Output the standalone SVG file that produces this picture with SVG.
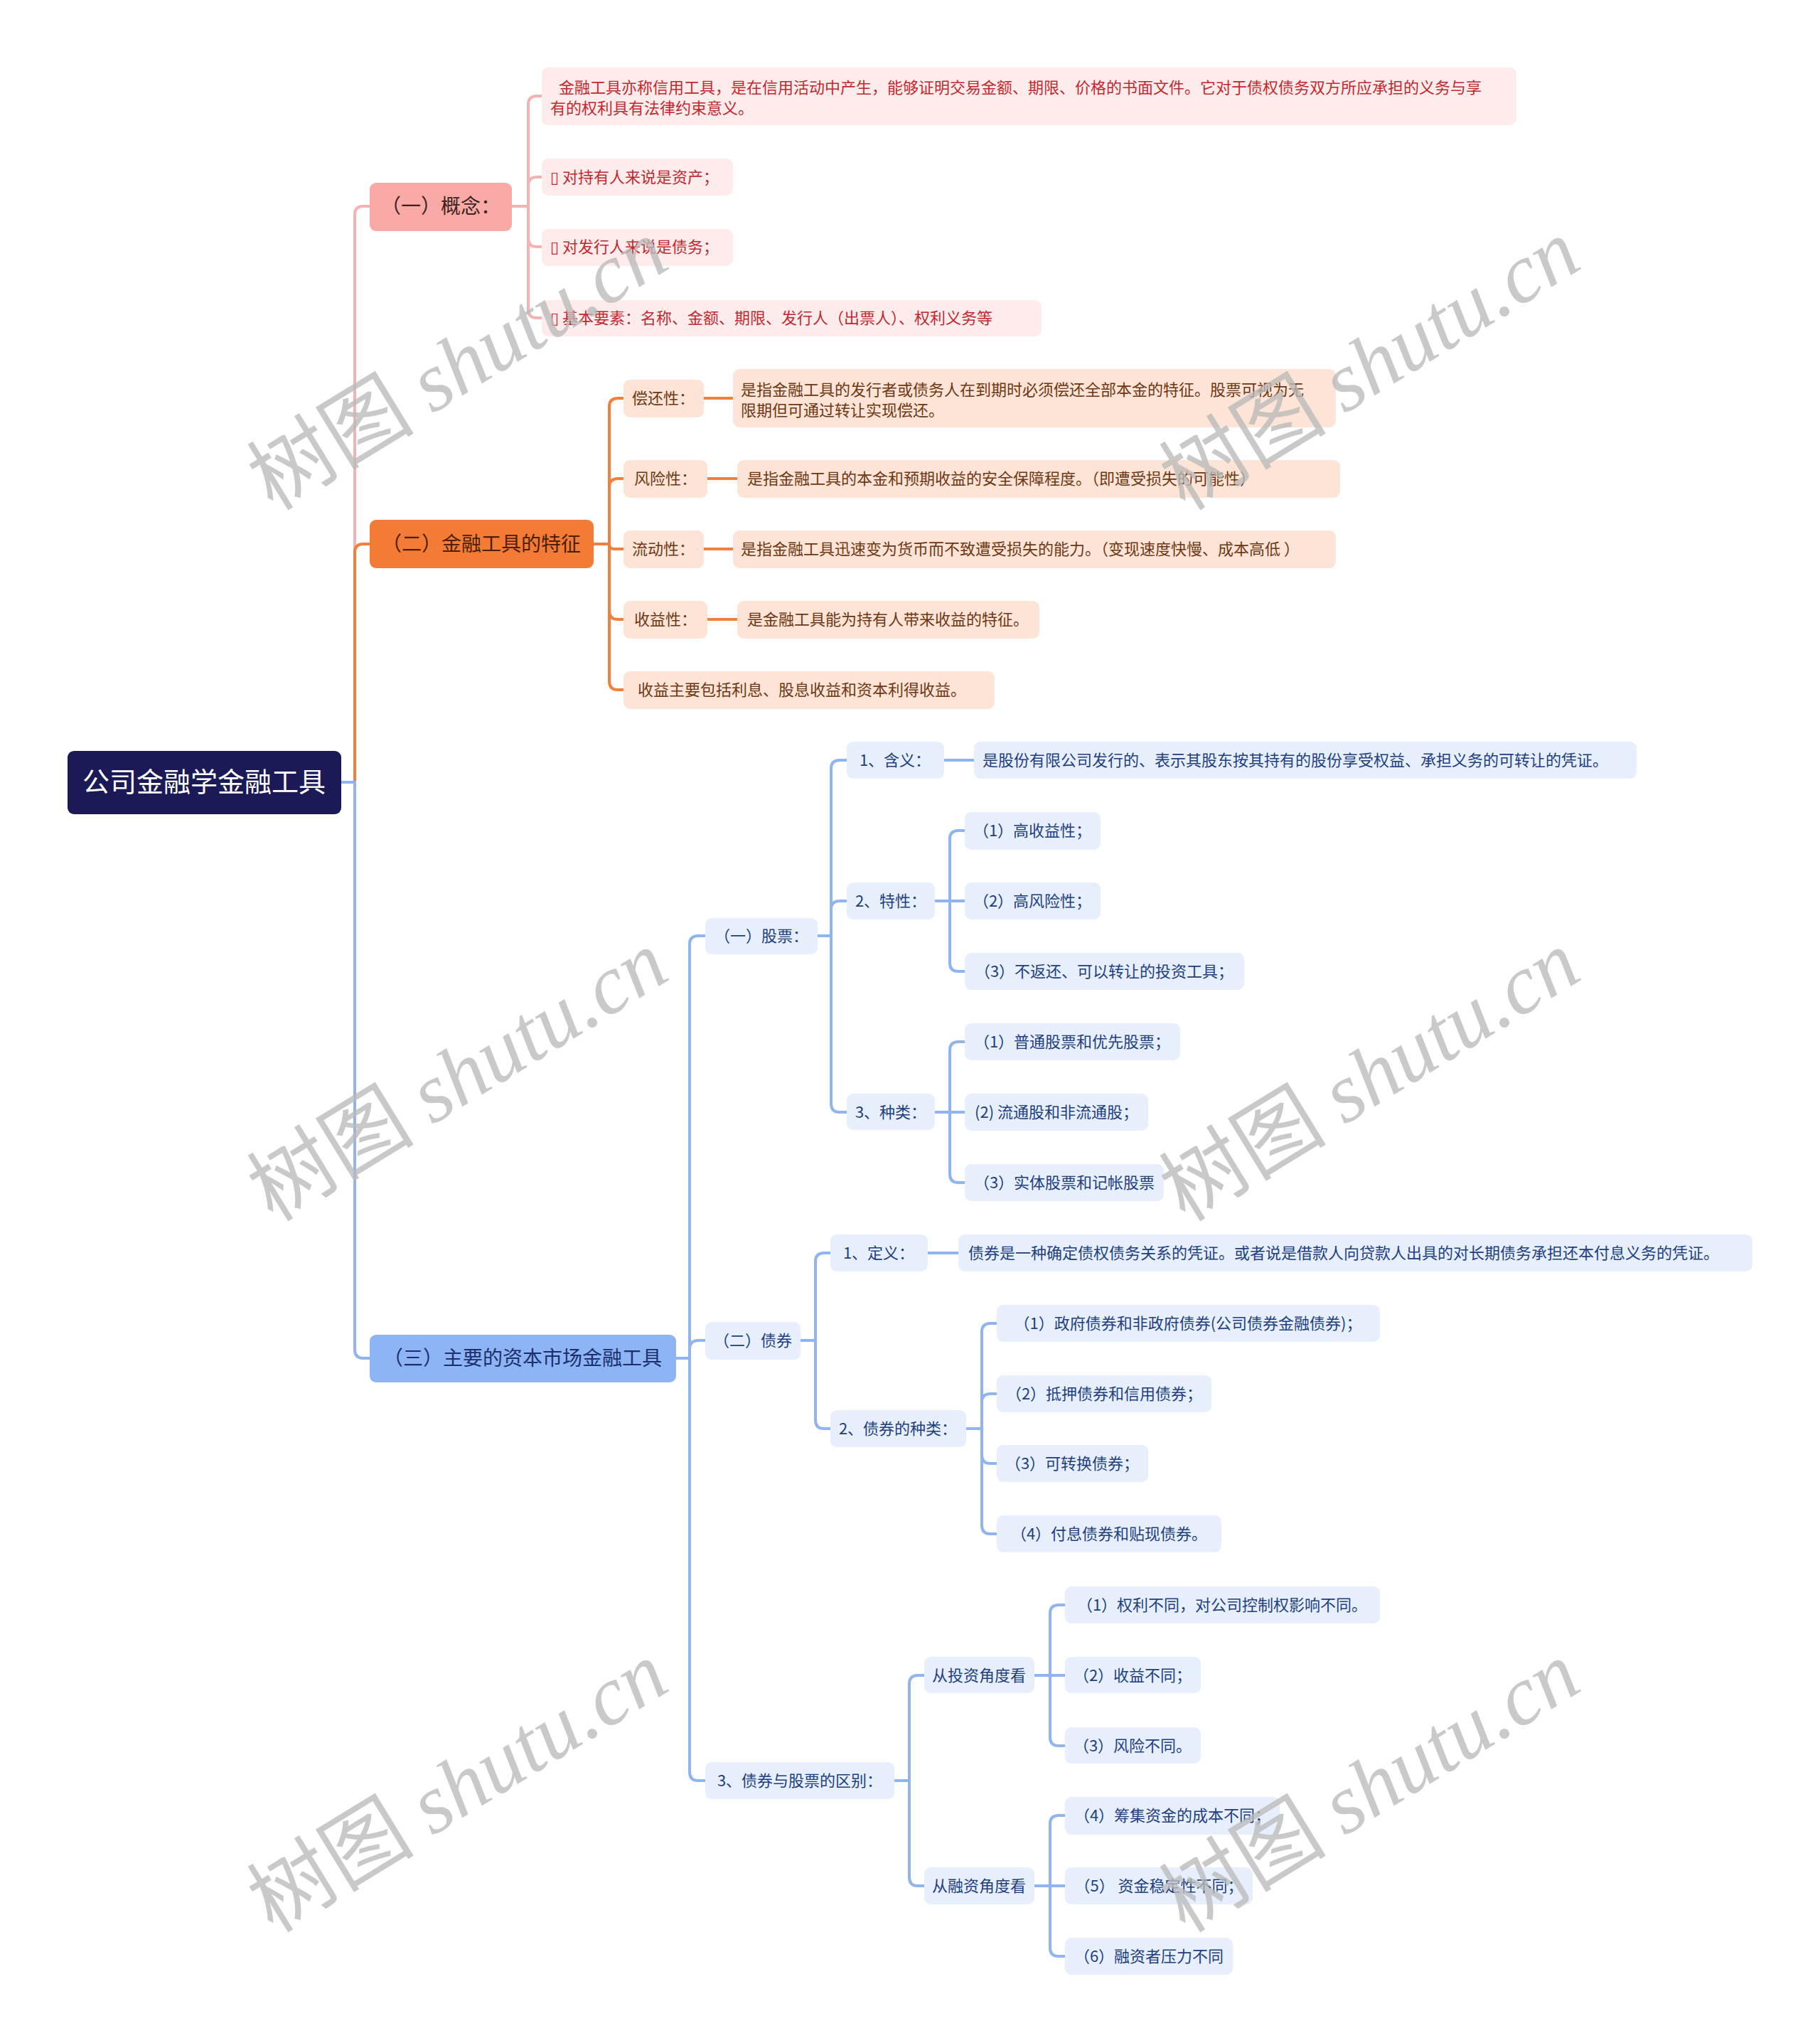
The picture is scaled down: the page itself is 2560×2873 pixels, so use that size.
<svg xmlns="http://www.w3.org/2000/svg" width="2560" height="2873" viewBox="0 0 2560 2873">
<style>
text{font-family:"Noto Sans CJK SC","Noto Sans","DejaVu Sans",sans-serif;font-size:22px}
.c{text-anchor:middle}
.l1{font-size:28px}
.root{fill:#1b1a57}
.roott{fill:#ffffff;font-size:38px}
.pk1{fill:#f9aaa6}.pk1t{fill:#3d1f1f}
.pk2{fill:#fdeceb}.pk2t{fill:#c3282f}
.or1{fill:#f47b35}.or1t{fill:#4a2008}
.or2{fill:#fde4d6}.or2t{fill:#6e3713}
.bl1{fill:#8db4f5}.bl1t{fill:#1a2f6b}
.bl2{fill:#e7effd}.bl2t{fill:#22407f}
.ln{fill:none;stroke-width:4}
.lp{stroke:#f4b3b0}.lo{stroke:#f27f3c}.lb{stroke:#8fb4f0}
.wm{fill:#bbbbbb;opacity:0.78;font-size:118px;text-anchor:middle}
.wm tspan.s{font-family:"Liberation Serif",serif;font-style:italic}
</style>
<rect width="2560" height="2873" fill="#ffffff"/>
<g id="connectors">
<path class="ln lp" stroke-width="4.5" d="M480,1100 H499 V302 Q499,290 511,290 H520"/>
<path class="ln lo" stroke-width="4.5" d="M480,1100 H499 V777 Q499,765 511,765 H520"/>
<path class="ln lb" stroke-width="4.5" d="M480,1100 H499 V1898 Q499,1910 511,1910 H520"/>
<path class="ln lp" d="M720,290 H743 V147 Q743,135 755,135 H762"/>
<path class="ln lp" d="M720,290 H743 V261 Q743,249 755,249 H762"/>
<path class="ln lp" d="M720,290 H743 V335 Q743,347 755,347 H762"/>
<path class="ln lp" d="M720,290 H743 V435 Q743,447 755,447 H762"/>
<path class="ln lo" d="M835,765 H857 V572 Q857,560 869,560 H877"/>
<path class="ln lo" d="M835,765 H857 V685 Q857,673 869,673 H877"/>
<path class="ln lo" d="M835,765 H857 Q857,772 864,772 H877"/>
<path class="ln lo" d="M835,765 H857 V859 Q857,871 869,871 H877"/>
<path class="ln lo" d="M835,765 H857 V958 Q857,970 869,970 H877"/>
<path class="ln lo" stroke-width="5" d="M990,560 H1031 M995,673 H1037 M990,772 H1031 M995,871 H1037"/>
<path class="ln lb" d="M951,1910 H970 V1328 Q970,1316 982,1316 H992"/>
<path class="ln lb" d="M951,1910 H970 V1897 Q970,1885 982,1885 H992"/>
<path class="ln lb" d="M951,1910 H970 V2492 Q970,2504 982,2504 H992"/>
<path class="ln lb" d="M1150,1316 H1169 V1081 Q1169,1069 1181,1069 H1191"/>
<path class="ln lb" d="M1150,1316 H1169 V1279 Q1169,1267 1181,1267 H1191"/>
<path class="ln lb" d="M1150,1316 H1169 V1552 Q1169,1564 1181,1564 H1191"/>
<path class="ln lb" stroke-width="5" d="M1328,1069 H1370"/>
<path class="ln lb" d="M1315,1267 H1336 V1180 Q1336,1168 1348,1168 H1357"/>
<path class="ln lb" d="M1315,1267 H1357"/>
<path class="ln lb" d="M1315,1267 H1336 V1354 Q1336,1366 1348,1366 H1357"/>
<path class="ln lb" d="M1315,1564 H1336 V1477 Q1336,1465 1348,1465 H1357"/>
<path class="ln lb" d="M1315,1564 H1357"/>
<path class="ln lb" d="M1315,1564 H1336 V1651 Q1336,1663 1348,1663 H1357"/>
<path class="ln lb" d="M1126,1885 H1147 V1774 Q1147,1762 1159,1762 H1168"/>
<path class="ln lb" d="M1126,1885 H1147 V1997 Q1147,2009 1159,2009 H1168"/>
<path class="ln lb" stroke-width="5" d="M1305,1762 H1348"/>
<path class="ln lb" d="M1359,2009 H1381 V1873 Q1381,1861 1393,1861 H1402"/>
<path class="ln lb" d="M1359,2009 H1381 V1972 Q1381,1960 1393,1960 H1402"/>
<path class="ln lb" d="M1359,2009 H1381 V2046 Q1381,2058 1393,2058 H1402"/>
<path class="ln lb" d="M1359,2009 H1381 V2145 Q1381,2157 1393,2157 H1402"/>
<path class="ln lb" d="M1258,2504 H1279 V2368 Q1279,2356 1291,2356 H1300"/>
<path class="ln lb" d="M1258,2504 H1279 V2640 Q1279,2652 1291,2652 H1300"/>
<path class="ln lb" d="M1455,2356 H1477 V2269 Q1477,2257 1489,2257 H1498"/>
<path class="ln lb" d="M1455,2356 H1498"/>
<path class="ln lb" d="M1455,2356 H1477 V2443 Q1477,2455 1489,2455 H1498"/>
<path class="ln lb" d="M1455,2652 H1477 V2565 Q1477,2553 1489,2553 H1498"/>
<path class="ln lb" d="M1455,2652 H1498"/>
<path class="ln lb" d="M1455,2652 H1477 V2739 Q1477,2751 1489,2751 H1498"/>
</g>
<g id="root"><rect class="root" x="95" y="1056" width="385" height="89" rx="9"/><text class="roott c" x="287" y="1113">公司金融学金融工具</text></g>
<g id="n1"><rect class="pk1" x="520" y="257" width="200" height="68" rx="9"/><text class="pk1t c l1" x="620" y="300">（一）概念：</text></g>
<g id="n1a"><rect class="pk2" x="762" y="95" width="1371" height="81" rx="9"/><text class="pk2t" x="786" y="131">金融工具亦称信用工具，是在信用活动中产生，能够证明交易金额、期限、价格的书面文件。它对于债权债务双方所应承担的义务与享</text><text class="pk2t" x="774" y="160">有的权利具有法律约束意义。</text></g>
<g id="n1b"><rect class="pk2" x="762" y="223" width="269" height="52" rx="9"/><text class="pk2t" x="774" y="257">▯ 对持有人来说是资产；</text></g>
<g id="n1c"><rect class="pk2" x="762" y="322" width="269" height="52" rx="9"/><text class="pk2t" x="774" y="355">▯ 对发行人来说是债务；</text></g>
<g id="n1d"><rect class="pk2" x="762" y="422" width="703" height="51" rx="9"/><text class="pk2t" x="774" y="455">▯ 基本要素：名称、金额、期限、发行人（出票人）、权利义务等</text></g>
<g id="n2"><rect class="or1" x="520" y="731" width="315" height="68" rx="9"/><text class="or1t c l1" x="677" y="775">（二）金融工具的特征</text></g>
<g id="n2a"><rect class="or2" x="877" y="534" width="113" height="53" rx="9"/><text class="or2t c" x="933" y="568">偿还性：</text></g>
<g id="n2a1"><rect class="or2" x="1031" y="519" width="848" height="82" rx="9"/><text class="or2t" x="1042" y="556">是指金融工具的发行者或债务人在到期时必须偿还全部本金的特征。股票可视为无</text><text class="or2t" x="1042" y="585">限期但可通过转让实现偿还。</text></g>
<g id="n2b"><rect class="or2" x="877" y="647" width="118" height="53" rx="9"/><text class="or2t c" x="936" y="681">风险性：</text></g>
<g id="n2b1"><rect class="or2" x="1037" y="647" width="848" height="53" rx="9"/><text class="or2t" x="1051" y="681">是指金融工具的本金和预期收益的安全保障程度。（即遭受损失的可能性）</text></g>
<g id="n2c"><rect class="or2" x="877" y="746" width="113" height="53" rx="9"/><text class="or2t c" x="933" y="780">流动性：</text></g>
<g id="n2c1"><rect class="or2" x="1031" y="746" width="848" height="53" rx="9"/><text class="or2t" x="1042" y="780">是指金融工具迅速变为货币而不致遭受损失的能力。（变现速度快慢、成本高低 ）</text></g>
<g id="n2d"><rect class="or2" x="877" y="845" width="118" height="53" rx="9"/><text class="or2t c" x="936" y="879">收益性：</text></g>
<g id="n2d1"><rect class="or2" x="1037" y="845" width="425" height="53" rx="9"/><text class="or2t" x="1051" y="879">是金融工具能为持有人带来收益的特征。</text></g>
<g id="n2e"><rect class="or2" x="877" y="944" width="522" height="53" rx="9"/><text class="or2t" x="897" y="978">收益主要包括利息、股息收益和资本利得收益。</text></g>
<g id="n3"><rect class="bl1" x="520" y="1877" width="431" height="67" rx="9"/><text class="bl1t c l1" x="735" y="1920">（三）主要的资本市场金融工具</text></g>
<g id="s1"><rect class="bl2" x="992" y="1291" width="158" height="51" rx="9"/><text class="bl2t c" x="1071" y="1324">（一）股票：</text></g>
<g id="s1a"><rect class="bl2" x="1191" y="1043" width="137" height="52" rx="9"/><text class="bl2t c" x="1259" y="1077">1、含义：</text></g>
<g id="s1a1"><rect class="bl2" x="1370" y="1043" width="932" height="52" rx="9"/><text class="bl2t" x="1382" y="1077">是股份有限公司发行的、表示其股东按其持有的股份享受权益、承担义务的可转让的凭证。</text></g>
<g id="s1b"><rect class="bl2" x="1191" y="1241" width="124" height="52" rx="9"/><text class="bl2t c" x="1253" y="1275">2、特性：</text></g>
<g id="s1b1"><rect class="bl2" x="1357" y="1142" width="191" height="53" rx="9"/><text class="bl2t c" x="1452" y="1176">（1）高收益性；</text></g>
<g id="s1b2"><rect class="bl2" x="1357" y="1241" width="191" height="52" rx="9"/><text class="bl2t c" x="1452" y="1275">（2）高风险性；</text></g>
<g id="s1b3"><rect class="bl2" x="1357" y="1340" width="393" height="52" rx="9"/><text class="bl2t c" x="1553" y="1374">（3）不返还、可以转让的投资工具；</text></g>
<g id="s1c"><rect class="bl2" x="1191" y="1538" width="124" height="51" rx="9"/><text class="bl2t c" x="1253" y="1572">3、种类：</text></g>
<g id="s1c1"><rect class="bl2" x="1357" y="1439" width="303" height="52" rx="9"/><text class="bl2t c" x="1508" y="1473">（1）普通股票和优先股票；</text></g>
<g id="s1c2"><rect class="bl2" x="1357" y="1538" width="258" height="52" rx="9"/><text class="bl2t c" x="1486" y="1572">(2) 流通股和非流通股；</text></g>
<g id="s1c3"><rect class="bl2" x="1357" y="1637" width="280" height="52" rx="9"/><text class="bl2t c" x="1497" y="1671">（3）实体股票和记帐股票</text></g>
<g id="s2"><rect class="bl2" x="992" y="1859" width="134" height="53" rx="9"/><text class="bl2t c" x="1059" y="1893">（二）债券</text></g>
<g id="s2a"><rect class="bl2" x="1168" y="1736" width="137" height="52" rx="9"/><text class="bl2t c" x="1236" y="1770">1、定义：</text></g>
<g id="s2a1"><rect class="bl2" x="1348" y="1736" width="1117" height="52" rx="9"/><text class="bl2t" x="1362" y="1770">债券是一种确定债权债务关系的凭证。或者说是借款人向贷款人出具的对长期债务承担还本付息义务的凭证。</text></g>
<g id="s2b"><rect class="bl2" x="1168" y="1983" width="191" height="52" rx="9"/><text class="bl2t c" x="1263" y="2017">2、债券的种类：</text></g>
<g id="s2b1"><rect class="bl2" x="1402" y="1835" width="539" height="52" rx="9"/><text class="bl2t c" x="1671" y="1869">（1）政府债券和非政府债券(公司债券金融债券)；</text></g>
<g id="s2b2"><rect class="bl2" x="1402" y="1934" width="302" height="52" rx="9"/><text class="bl2t c" x="1553" y="1968">（2）抵押债券和信用债券；</text></g>
<g id="s2b3"><rect class="bl2" x="1402" y="2032" width="213" height="52" rx="9"/><text class="bl2t c" x="1508" y="2066">（3）可转换债券；</text></g>
<g id="s2b4"><rect class="bl2" x="1402" y="2131" width="316" height="52" rx="9"/><text class="bl2t c" x="1560" y="2165">（4）付息债券和贴现债券。</text></g>
<g id="s3"><rect class="bl2" x="992" y="2478" width="266" height="52" rx="9"/><text class="bl2t c" x="1125" y="2512">3、债券与股票的区别：</text></g>
<g id="s3a"><rect class="bl2" x="1300" y="2330" width="155" height="51" rx="9"/><text class="bl2t c" x="1377" y="2364">从投资角度看</text></g>
<g id="s3a1"><rect class="bl2" x="1498" y="2231" width="443" height="52" rx="9"/><text class="bl2t c" x="1719" y="2265">（1）权利不同，对公司控制权影响不同。</text></g>
<g id="s3a2"><rect class="bl2" x="1498" y="2330" width="191" height="51" rx="9"/><text class="bl2t c" x="1593" y="2364">（2）收益不同；</text></g>
<g id="s3a3"><rect class="bl2" x="1498" y="2429" width="191" height="51" rx="9"/><text class="bl2t c" x="1593" y="2463">（3）风险不同。</text></g>
<g id="s3b"><rect class="bl2" x="1300" y="2626" width="155" height="52" rx="9"/><text class="bl2t c" x="1377" y="2660">从融资角度看</text></g>
<g id="s3b1"><rect class="bl2" x="1498" y="2527" width="302" height="53" rx="9"/><text class="bl2t c" x="1649" y="2561">（4）筹集资金的成本不同；</text></g>
<g id="s3b2"><rect class="bl2" x="1498" y="2626" width="264" height="52" rx="9"/><text class="bl2t c" x="1630" y="2660">（5） 资金稳定性不同；</text></g>
<g id="s3b3"><rect class="bl2" x="1498" y="2725" width="236" height="52" rx="9"/><text class="bl2t c" x="1616" y="2759">（6）融资者压力不同</text></g>
<g id="watermarks">
<text class="wm" x="645" y="553" transform="rotate(-31.5 645 515)">树图 <tspan class="s">shutu.cn</tspan></text>
<text class="wm" x="1928" y="553" transform="rotate(-31.5 1928 515)">树图 <tspan class="s">shutu.cn</tspan></text>
<text class="wm" x="645" y="1553" transform="rotate(-31.5 645 1515)">树图 <tspan class="s">shutu.cn</tspan></text>
<text class="wm" x="1928" y="1553" transform="rotate(-31.5 1928 1515)">树图 <tspan class="s">shutu.cn</tspan></text>
<text class="wm" x="645" y="2553" transform="rotate(-31.5 645 2515)">树图 <tspan class="s">shutu.cn</tspan></text>
<text class="wm" x="1928" y="2553" transform="rotate(-31.5 1928 2515)">树图 <tspan class="s">shutu.cn</tspan></text>
</g>
</svg>
